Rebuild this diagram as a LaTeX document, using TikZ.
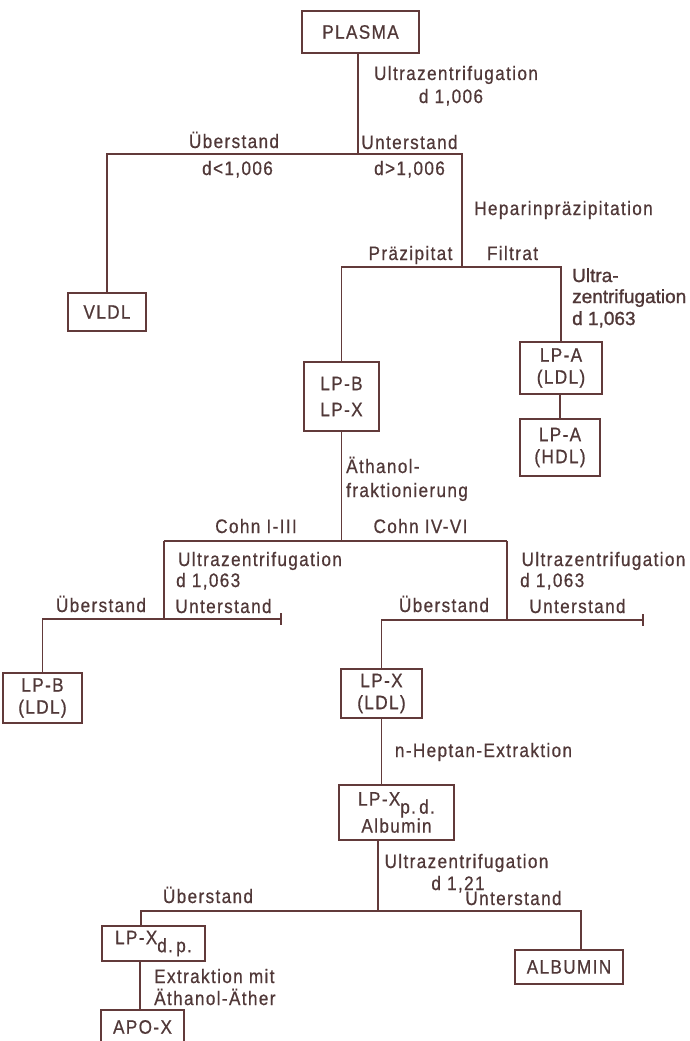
\documentclass[tikz,border=0pt]{standalone}
\usepackage{fontspec}
\usetikzlibrary{arrows.meta}
\newfontfamily\labfont[FakeStretch=0.88, LetterSpace=7, FakeBold=0.6]{Liberation Sans}
\newfontfamily\ulfont[FakeBold=1.2]{Liberation Sans}
\definecolor{ink}{RGB}{98,58,58}
\definecolor{txt}{RGB}{80,56,56}
\newcommand{\lab}{\labfont\fontsize{19.5}{22}\selectfont}
\newcommand{\ulab}{\ulfont\fontsize{19}{21.5}\selectfont}
\tikzset{
  box/.style={draw=ink, line width=2.3pt, inner sep=0pt, align=center, font=\lab, text=txt},
  lbl/.style={inner sep=0pt, font=\lab, text=txt, anchor=base},
  lblw/.style={inner sep=0pt, font=\lab, text=txt, anchor=base west},
  conn/.style={draw=ink, line width=1.6pt},
  endbar/.style={-{Bar[width=12pt,line width=1.6pt]}},
}
\begin{document}
\begin{tikzpicture}[x=1pt,y=-1pt]
\path[use as bounding box, fill=white] (0,0) rectangle (690,1041);

% boxes
\node[box, minimum width=117pt, minimum height=42pt] (plasma) at (360.5,32) {PLASMA};
\node[box, minimum width=78pt, minimum height=38pt] (vldl) at (107,312) {VLDL};
\node[box, minimum width=75pt, minimum height=69pt] (lpbx) at (341.5,396.5) {LP-B\\[4pt]LP-X};
\node[box, minimum width=82pt, minimum height=52pt] (lpa1) at (561,368) {LP-A\\(LDL)};
\node[box, minimum width=80pt, minimum height=57pt] (lpa2) at (560,447.5) {LP-A\\(HDL)};
\node[box, minimum width=79pt, minimum height=50pt] (lpb) at (42.5,698) {LP-B\\(LDL)};
\node[box, minimum width=81pt, minimum height=49pt] (lpx) at (381.5,693.5) {LP-X\\(LDL)};
\node[box, minimum width=115pt, minimum height=55pt] (lpxpd) at (396.5,812.5) {LP-X\raisebox{-8pt}[0pt][0pt]{p.\,d.}\\[5pt]Albumin};
\node[box, minimum width=103pt, minimum height=35pt] (lpxdp) at (153.5,943.5) {LP-X\raisebox{-8pt}{d.\,p.}};
\node[box, minimum width=83pt, minimum height=34pt] (apox) at (142.5,1027) {APO-X};
\node[box, minimum width=108pt, minimum height=34pt] (albumin) at (569,967) {ALBUMIN};

% junctions
\coordinate (jA) at (358,154);
\coordinate (jB) at (462,267);
\coordinate (jC) at (341.5,541);
\coordinate (jL) at (164,541);
\coordinate (jR) at (507,541);
\coordinate (jL2) at (164,619);
\coordinate (jR2) at (507,620);
\coordinate (tL) at (282,619);
\coordinate (tR) at (644,620);
\coordinate (jD) at (378,911);
\coordinate (jE) at (141,911);
\coordinate (jF) at (581,911);

% connectors
\draw[conn] (plasma.south -| jA) -- (jA);
\draw[conn] (vldl.north) |- (jA) -| (jB);
\draw[conn] (lpbx.north) |- (jB) -| (lpa1.north);
\draw[conn] (lpa1.south -| lpa2.north) -- (lpa2.north);
\draw[conn] (lpbx.south) -- (jC);
\draw[conn] (jL) -- (jR);
\draw[conn] (jL) -- (jL2);
\draw[conn] (jR) -- (jR2);
\draw[conn, endbar] (lpb.north) |- (tL);
\draw[conn, endbar] (lpx.north) |- (tR);
\draw[conn] (lpx.south) -- (lpx.south |- lpxpd.north);
\draw[conn] (lpxpd.south -| jD) -- (jD);
\draw[conn] (jE |- lpxdp.north) -- (jE) -- (jF) -- (jF |- albumin.north);
\draw[conn] (lpxdp.south -| 140,0) -- (apox.north -| 140,0);

% labels
\node[lbl] (t1) at (456,80) {Ultrazentrifugation};
\node[lbl] (t2) at (451,103) {d 1,006};
\node[lbl] (t3) at (234,148) {Überstand};
\node[lbl] (t4) at (237.5,175) {d<1,006};
\node[lbl] (t5) at (409.5,149) {Unterstand};
\node[lbl] (t6) at (409.5,175) {d>1,006};
\node[lbl] (t7) at (563.5,215) {Heparinpräzipitation};
\node[lbl] (t8) at (410.5,260) {Präzipitat};
\node[lbl] (t9) at (512.5,260) {Filtrat};
\node[inner sep=0pt, anchor=base west, font=\ulab, text=txt] (t10) at (572,282) {Ultra-};
\node[inner sep=0pt, anchor=base west, font=\ulab, text=txt] (t11) at (572,303) {zentrifugation};
\node[inner sep=0pt, anchor=base west, font=\ulab, text=txt] (t12) at (572,325) {d 1,063};
\node[lblw] (t13) at (346,473) {Äthanol-};
\node[lblw] (t14) at (346,497) {fraktionierung};
\node[lbl] (t15) at (256,533) {Cohn I-III};
\node[lbl] (t16) at (420.5,533) {Cohn IV-VI};
\node[lbl] (t17) at (260,566) {Ultrazentrifugation};
\node[lblw] (t18) at (176,587) {d 1,063};
\node[lbl] (t19) at (223.5,613) {Unterstand};
\node[lbl] (t20) at (101,612) {Überstand};
\node[lbl] (t21) at (444,612) {Überstand};
\node[lbl] (t22) at (603.5,566) {Ultrazentrifugation};
\node[lblw] (t23) at (520,587) {d 1,063};
\node[lbl] (t24) at (577.5,613) {Unterstand};
\node[lbl] (t25) at (483.5,757) {n-Heptan-Extraktion};
\node[lbl] (t26) at (466.5,868) {Ultrazentrifugation};
\node[lbl] (t27) at (458,890) {d 1,21};
\node[lbl] (t28) at (513.5,905) {Unterstand};
\node[lbl] (t29) at (208,903) {Überstand};
\node[lblw] (t30) at (154,983) {Extraktion mit};
\node[lblw] (t31) at (154,1005) {Äthanol-Äther};
\end{tikzpicture}
\end{document}
